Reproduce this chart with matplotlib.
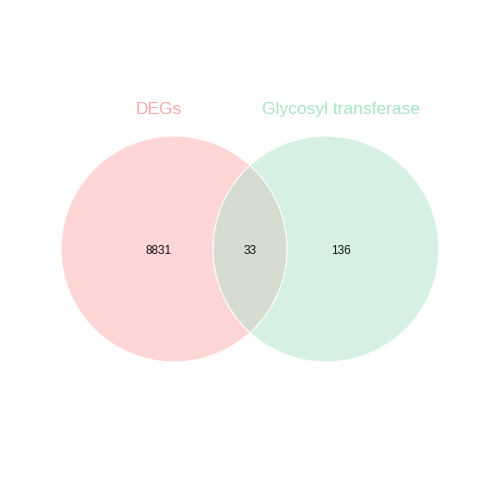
import matplotlib
matplotlib.use('Agg')
import matplotlib.pyplot as plt
from matplotlib.patches import Circle

plt.rcParams['font.family'] = ['Liberation Sans', 'DejaVu Sans']

SET_NAMES = ['DEGs', 'Glycosyl transferase']
REGION_COUNTS = [8831, 33, 136]  # left only, both, right only
FILL_COLORS = ['#FFD6D6', '#D7F0E4']
OVERLAP_COLOR = '#D6DDD0'
LABEL_COLORS = ['#F8A8A8', '#A8E4C6']

CENTERS = [(174, 249), (326, 249)]
RADIUS = 113
COUNT_X = [159, 250, 341]
LABEL_X = [159, 341]


def do_plot():
    fig = plt.figure(figsize=(5, 5), dpi=100)
    ax = fig.add_axes([0, 0, 1, 1])
    ax.set_xlim(0, 500)
    ax.set_ylim(500, 0)
    ax.set_aspect('equal')
    ax.axis('off')

    circles = []
    for c, col in zip(CENTERS, FILL_COLORS):
        circ = Circle(c, RADIUS, facecolor=col, edgecolor='none', zorder=1)
        ax.add_patch(circ)
        circles.append(circ)

    # overlap lens: left circle clipped by the right circle
    lens = Circle(CENTERS[0], RADIUS, facecolor=OVERLAP_COLOR,
                  edgecolor='none', zorder=2)
    ax.add_patch(lens)
    lens.set_clip_path(circles[1])

    for c in CENTERS:
        ax.add_patch(Circle(c, RADIUS, facecolor='none', edgecolor='white',
                            lw=0.8, zorder=3))

    for x, n in zip(COUNT_X, REGION_COUNTS):
        ax.text(x, 251, str(n), ha='center', va='center', fontsize=8.5,
                color='#111111', zorder=4)

    for x, name, col in zip(LABEL_X, SET_NAMES, LABEL_COLORS):
        ax.text(x, 109.5, name, ha='center', va='center', fontsize=12.5,
                color=col, zorder=4)

    fig.savefig('out.png', dpi=100, facecolor='white')


if __name__ == '__main__':
    do_plot()
